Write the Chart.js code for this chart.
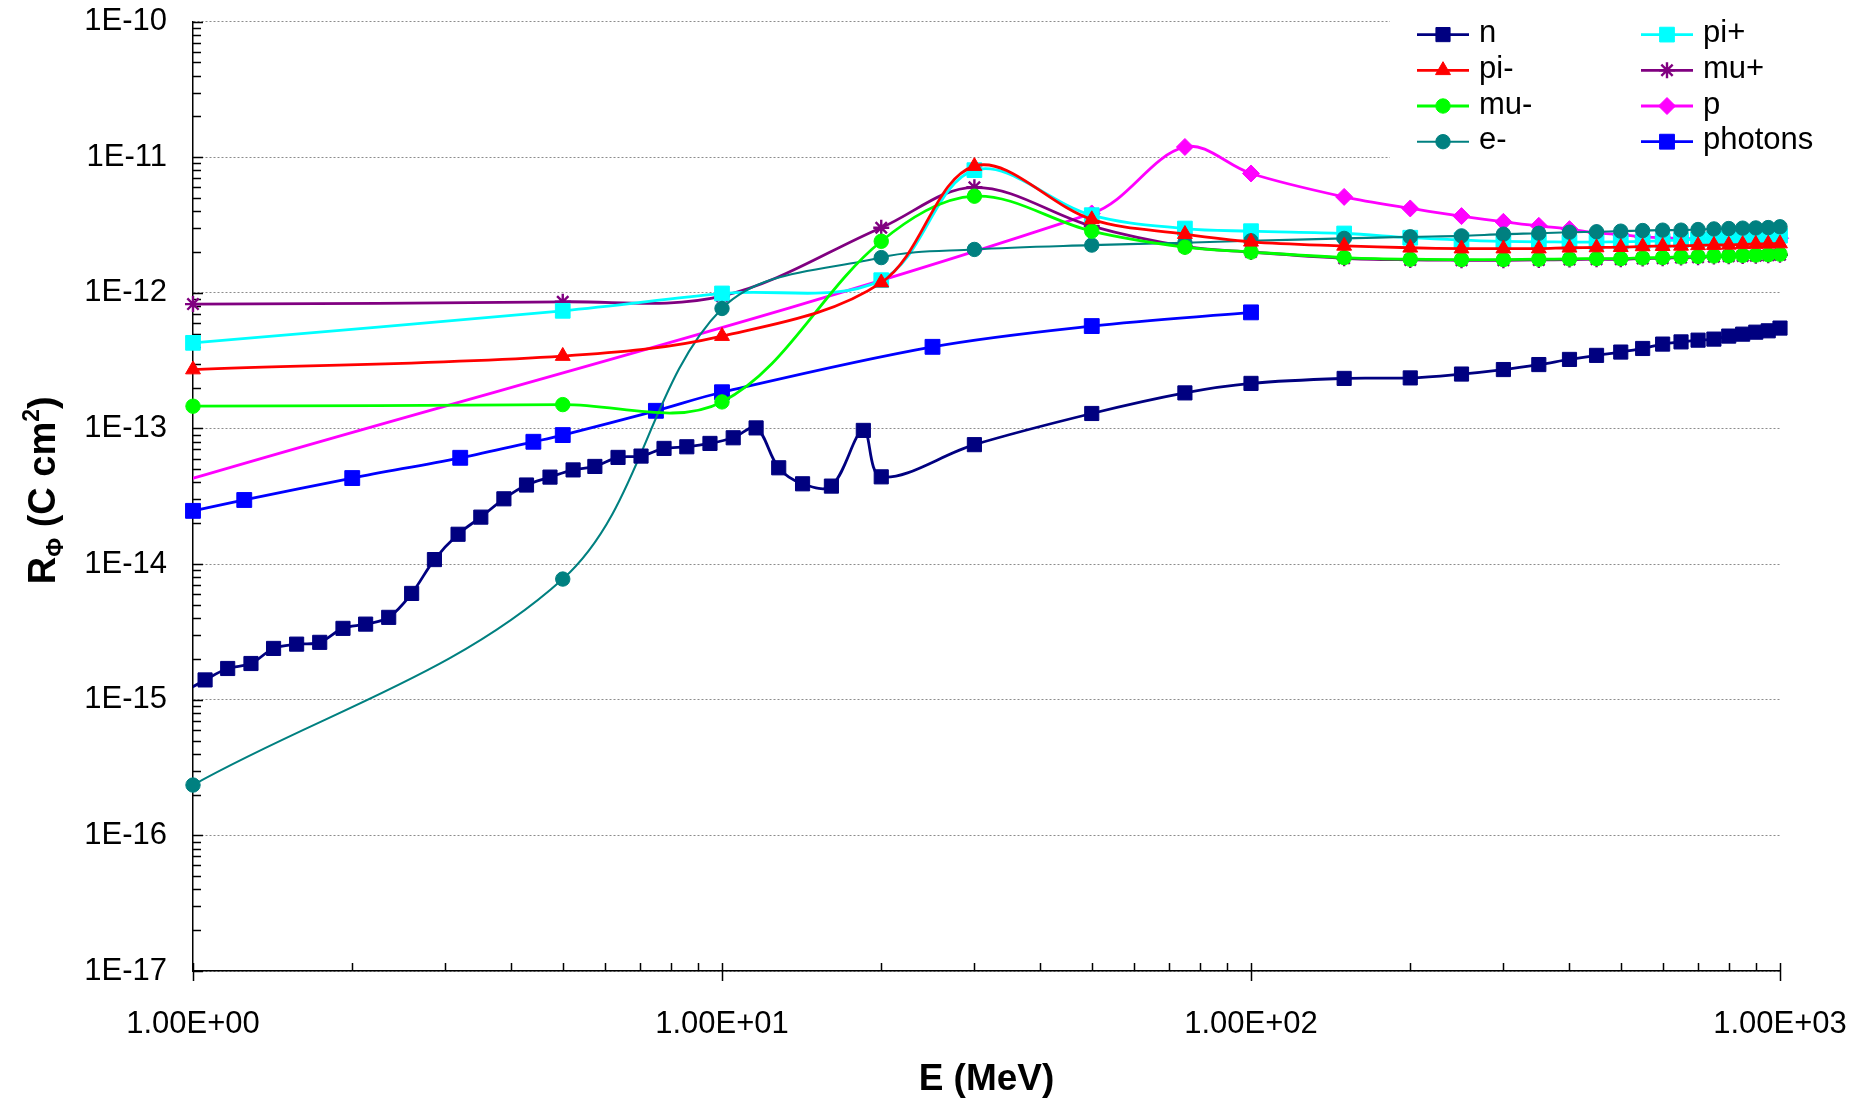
<!DOCTYPE html>
<html>
<head>
<meta charset="utf-8">
<script src="https://cdn.jsdelivr.net/npm/chart.js@4.4.1/dist/chart.umd.min.js"></script>
<style>
  html, body { margin: 0; padding: 0; background: #fff; }
  #chart { display: block; }
</style>
</head>
<body>
<canvas id="chart" width="1868" height="1098"></canvas>
<script>
// energies (MeV) shared by the pion / muon / electron series
const energyMain = [1, 5, 10, 20, 30, 50, 75, 100, 150, 200, 250, 300, 350, 400, 450, 500,
                    550, 600, 650, 700, 750, 800, 850, 900, 950, 1000];

const piMinus = [2.72e-13, 3.42e-13, 4.80e-13, 1.19e-12, 8.6e-12, 3.48e-12, 2.71e-12, 2.38e-12, 2.22e-12,
                 2.15e-12, 2.12e-12, 2.12e-12, 2.12e-12, 2.15e-12, 2.16e-12, 2.17e-12, 2.20e-12, 2.21e-12,
                 2.22e-12, 2.24e-12, 2.25e-12, 2.26e-12, 2.28e-12, 2.29e-12, 2.30e-12, 2.31e-12];
const muMinus = [1.46e-13, 1.50e-13, 1.57e-13, 2.40e-12, 5.16e-12, 2.85e-12, 2.17e-12, 2.0e-12, 1.82e-12,
                 1.77e-12, 1.76e-12, 1.76e-12, 1.77e-12, 1.78e-12, 1.79e-12, 1.79e-12, 1.81e-12, 1.82e-12,
                 1.84e-12, 1.855e-12, 1.87e-12, 1.875e-12, 1.89e-12, 1.90e-12, 1.91e-12, 1.93e-12];
const eMinus = [2.35e-16, 7.76e-15, 7.67e-13, 1.82e-12, 2.09e-12, 2.25e-12, 2.34e-12, 2.42e-12, 2.52e-12,
                2.59e-12, 2.63e-12, 2.71e-12, 2.75e-12, 2.80e-12, 2.82e-12, 2.85e-12, 2.88e-12, 2.90e-12,
                2.90e-12, 2.93e-12, 2.96e-12, 2.98e-12, 3.00e-12, 3.01e-12, 3.03e-12, 3.07e-12];
const piPlus = [4.28e-13, 7.37e-13, 9.9e-13, 1.24e-12, 8.03e-12, 3.74e-12, 2.98e-12, 2.85e-12, 2.74e-12,
                2.55e-12, 2.45e-12, 2.40e-12, 2.38e-12, 2.37e-12, 2.37e-12, 2.38e-12, 2.40e-12, 2.42e-12,
                2.45e-12, 2.48e-12, 2.50e-12, 2.53e-12, 2.56e-12, 2.58e-12, 2.61e-12, 2.64e-12];
const muPlus = [8.26e-13, 8.59e-13, 9.46e-13, 3.02e-12, 6.0e-12, 3.1e-12, 2.2e-12, 2.0e-12, 1.80e-12,
                1.75e-12, 1.74e-12, 1.74e-12, 1.75e-12, 1.76e-12, 1.77e-12, 1.77e-12, 1.79e-12, 1.80e-12,
                1.82e-12, 1.83e-12, 1.85e-12, 1.86e-12, 1.87e-12, 1.88e-12, 1.89e-12, 1.91e-12];

const pEnergy = [0.95, 50, 75, 100, 150, 200, 250, 300, 350, 400, 450, 500, 550, 600, 650, 700,
                 750, 800, 850, 900, 950, 1000];
const protons = [4.05e-14, 3.85e-12, 1.19e-11, 7.59e-12, 5.10e-12, 4.19e-12, 3.68e-12, 3.34e-12, 3.12e-12,
                 2.95e-12, 2.77e-12, 2.69e-12, 2.59e-12, 2.55e-12, 2.52e-12, 2.49e-12, 2.49e-12, 2.49e-12,
                 2.50e-12, 2.52e-12, 2.52e-12, 2.53e-12];

const nEnergy = [0.953, 1.054, 1.163, 1.287, 1.42, 1.57, 1.736, 1.921, 2.12, 2.344, 2.59, 2.86, 3.17, 3.50,
                 3.87, 4.27, 4.73, 5.23, 5.75, 6.36, 7.03, 7.77, 8.58, 9.49, 10.5, 11.6, 12.8, 14.2, 16.1,
                 18.5, 20, 30, 50, 75, 100, 150, 200, 250, 300, 350, 400, 450, 500, 550, 600, 650, 700,
                 750, 800, 850, 900, 950, 1000];
const neutrons = [1.12e-15, 1.40e-15, 1.70e-15, 1.85e-15, 2.39e-15, 2.57e-15, 2.65e-15, 3.36e-15, 3.61e-15,
                  4.05e-15, 6.08e-15, 1.08e-14, 1.66e-14, 2.22e-14, 3.03e-14, 3.83e-14, 4.38e-14, 4.95e-14,
                  5.25e-14, 6.12e-14, 6.26e-14, 7.13e-14, 7.33e-14, 7.76e-14, 8.54e-14, 1.01e-13, 5.13e-14,
                  3.91e-14, 3.76e-14, 9.68e-14, 4.40e-14, 7.6e-14, 1.29e-13, 1.83e-13, 2.15e-13, 2.34e-13,
                  2.36e-13, 2.52e-13, 2.72e-13, 2.96e-13, 3.23e-13, 3.46e-13, 3.66e-13, 3.89e-13, 4.19e-13,
                  4.35e-13, 4.48e-13, 4.56e-13, 4.80e-13, 4.96e-13, 5.13e-13, 5.25e-13, 5.50e-13];

const photonEnergy = [1, 1.25, 2, 3.2, 4.4, 5, 7.5, 10, 25, 50, 100];
const photons = [2.47e-14, 2.97e-14, 4.31e-14, 6.08e-14, 7.98e-14, 8.94e-14, 1.35e-13, 1.85e-13, 4.0e-13,
                 5.69e-13, 7.18e-13];

const xTickValues = [1, 10, 100, 1000];
const xTickLabels = ['1.00E+00', '1.00E+01', '1.00E+02', '1.00E+03'];
const yTickValues = [1e-17, 1e-16, 1e-15, 1e-14, 1e-13, 1e-12, 1e-11, 1e-10];
const yTickLabels = ['1E-17', '1E-16', '1E-15', '1E-14', '1E-13', '1E-12', '1E-11', '1E-10'];

const FONT = "'Liberation Sans', Arial, sans-serif";

const series = [
  {label: 'n', x: nEnergy, y: neutrons, color: '#000080', style: 'rect', r: 10, w: 2.8, clipLeft: true},
  {label: 'pi-', x: energyMain, y: piMinus, color: '#ff0000', style: 'triangle', r: 8.6, w: 2.8},
  {label: 'mu-', x: energyMain, y: muMinus, color: '#00ff00', style: 'circle', r: 7.2, w: 2.8},
  {label: 'e-', x: energyMain, y: eMinus, color: '#008080', style: 'circle', r: 7.2, w: 2.1},
  {label: 'pi+', x: energyMain, y: piPlus, color: '#00ffff', style: 'rect', r: 10.4, w: 2.8},
  {label: 'mu+', x: energyMain, y: muPlus, color: '#800080', style: 'star', r: 8, w: 2.8},
  {label: 'p', x: pEnergy, y: protons, color: '#ff00ff', style: 'rectRot', r: 8.5, w: 2.8, clipLeft: true},
  {label: 'photons', x: photonEnergy, y: photons, color: '#0000ff', style: 'rect', r: 10.5, w: 2.8}
];

const datasets = series.map(s => ({
  label: s.label,
  data: s.x.map((e, i) => ({x: e, y: s.y[i]})),
  borderColor: s.color,
  backgroundColor: s.color,
  borderWidth: s.w,
  pointStyle: s.style,
  pointRadius: s.r,
  pointBorderWidth: s.style === 'star' ? 2.4 : 1,
  pointBackgroundColor: s.color,
  pointBorderColor: s.color,
  tension: 0.35,
  fill: false,
  clip: s.clipLeft ? {left: 0, top: false, right: false, bottom: false} : false
}));

// inside tick marks on both axes, placed with the scales
const axisTicks = {
  id: 'axisTicks',
  beforeDatasetsDraw(chart) {
    const {ctx, chartArea: a, scales: {x, y}} = chart;
    ctx.save();
    ctx.strokeStyle = '#000';
    ctx.lineWidth = 1.5;
    ctx.beginPath();
    xTickValues.forEach(d => {
      for (let m = 1; m < 10; m++) {
        const v = d * m;
        if (v > x.max) break;
        const px = Math.round(x.getPixelForValue(v)) + 0.5;
        ctx.moveTo(px, a.bottom - 8);
        ctx.lineTo(px, a.bottom + (m === 1 ? 10 : 0));
      }
    });
    yTickValues.forEach(d => {
      for (let m = 1; m < 10; m++) {
        const v = d * m;
        if (v > y.max * 1.0001) break;
        const py = Math.round(y.getPixelForValue(v)) + 0.5;
        ctx.moveTo(a.left, py);
        ctx.lineTo(a.left + (m === 1 ? 10 : 8), py);
      }
    });
    ctx.stroke();
    ctx.restore();
  }
};

// two-column legend on a white box over the top right
const legendBox = {
  id: 'legendBox',
  beforeDatasetsDraw(chart) {
    const ctx = chart.ctx;
    ctx.save();
    ctx.fillStyle = '#fff';
    ctx.fillRect(1390, 0, 478, 200);
    ctx.restore();
  },
  afterDraw(chart) {
    const ctx = chart.ctx;
    chart.data.datasets.forEach((ds, i) => {
      const col = Math.floor(i / 4), row = i % 4;
      const cx = 1443 + col * 224, cy = 34.6 + row * 35.7;
      ctx.save();
      ctx.strokeStyle = ds.borderColor;
      ctx.lineWidth = ds.borderWidth;
      ctx.beginPath();
      ctx.moveTo(cx - 26, cy);
      ctx.lineTo(cx + 26, cy);
      ctx.stroke();
      ctx.fillStyle = ds.pointBackgroundColor;
      ctx.strokeStyle = ds.pointBorderColor;
      ctx.lineWidth = ds.pointBorderWidth;
      Chart.helpers.drawPoint(ctx, {pointStyle: ds.pointStyle, radius: ds.pointRadius,
        borderWidth: ds.pointBorderWidth, rotation: 0}, cx, cy);
      ctx.fillStyle = '#000';
      ctx.font = '31px ' + FONT;
      ctx.textBaseline = 'middle';
      ctx.textAlign = 'left';
      ctx.fillText(ds.label, cx + 36, cy - 1);
      ctx.restore();
    });
  }
};

// y title with subscript and superscript
const yTitle = {
  id: 'yTitle',
  afterDraw(chart) {
    const {ctx, chartArea: a} = chart;
    const big = 'bold 38px ' + FONT, small = 'bold 23px ' + FONT;
    const parts = [['R', big, 0], ['\u03A6', small, 8], [' (C cm', big, 0], ['2', small, -16], [')', big, 0]];
    ctx.save();
    ctx.translate(55, (a.top + a.bottom) / 2 - 6);
    ctx.rotate(-Math.PI / 2);
    ctx.fillStyle = '#000';
    ctx.textBaseline = 'alphabetic';
    let total = 0;
    parts.forEach(p => { ctx.font = p[1]; total += ctx.measureText(p[0]).width; });
    let xp = -total / 2;
    parts.forEach(p => {
      ctx.font = p[1];
      ctx.fillText(p[0], xp, p[2]);
      xp += ctx.measureText(p[0]).width;
    });
    ctx.restore();
  }
};

new Chart(document.getElementById('chart'), {
  type: 'line',
  data: {datasets: datasets},
  options: {
    responsive: false,
    animation: false,
    devicePixelRatio: 1,
    layout: {padding: {left: 0, top: 21, right: 88, bottom: 0}},
    plugins: {legend: {display: false}, tooltip: {enabled: false}},
    scales: {
      x: {
        type: 'logarithmic',
        min: 1,
        max: 1000,
        position: 'bottom',
        grid: {display: false, drawTicks: true, tickLength: 32, tickColor: 'rgba(0,0,0,0)'},
        border: {display: true, color: '#000', width: 1.5},
        ticks: {autoSkip: false, maxRotation: 0, padding: 3, color: '#000',
                font: {family: FONT, size: 31}, callback: (v, i) => xTickLabels[i]},
        afterBuildTicks: s => { s.ticks = xTickValues.map(v => ({value: v})); },
        afterFit: s => { s.height = 127; },
        title: {display: true, text: 'E (MeV)', color: '#000', padding: 0,
                font: {family: FONT, size: 37, weight: 'bold', lineHeight: 1.0}}
      },
      y: {
        type: 'logarithmic',
        min: 1e-17,
        max: 1e-10,
        grid: {color: '#8c8c8c', lineWidth: 1, drawTicks: true, tickLength: 23, tickColor: 'rgba(0,0,0,0)'},
        border: {display: true, color: '#000', width: 1.5, dash: [2, 2]},
        ticks: {autoSkip: false, padding: 3, color: '#000',
                font: {family: FONT, size: 31}, callback: (v, i) => yTickLabels[i]},
        afterBuildTicks: s => { s.ticks = yTickValues.map(v => ({value: v})); },
        afterFit: s => { s.width = 193; }
      }
    }
  },
  plugins: [axisTicks, legendBox, yTitle]
});
</script>
</body>
</html>
